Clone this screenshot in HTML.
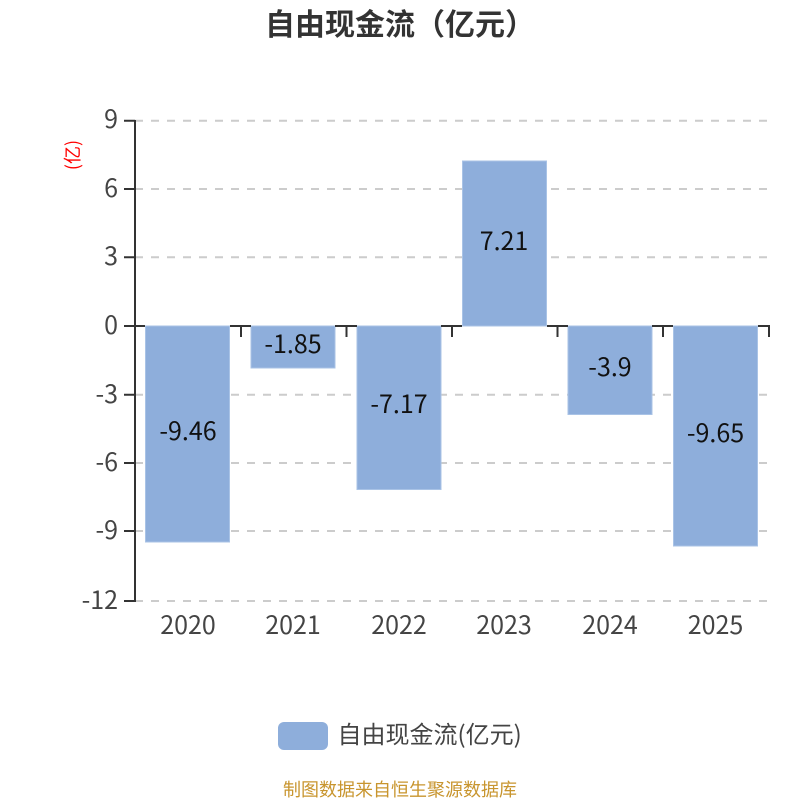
<!DOCTYPE html>
<html lang="zh">
<head>
<meta charset="utf-8">
<style>
html,body{margin:0;padding:0;background:#fff;width:800px;height:800px;overflow:hidden}
svg{display:block}
text{font-family:"Noto Sans CJK SC","Liberation Sans",sans-serif}
</style>
</head>
<body>
<svg width="800" height="800" viewBox="0 0 800 800" xmlns="http://www.w3.org/2000/svg">
<text x="265" y="35" font-size="30" font-weight="700" fill="#333">自由现金流（亿元）</text>

<g stroke="#ccc" stroke-width="2" stroke-dasharray="8 8" fill="none">
<path d="M135 120.7H769"/>
<path d="M135 189H769"/>
<path d="M135 257.3H769"/>
<path d="M135 394.7H769"/>
<path d="M135 463H769"/>
<path d="M135 531H769"/>
<path d="M135 601H769"/>
</g>

<g fill="#8eaedb" stroke="#a9c3e6" stroke-width="1">
<rect x="145.5" y="326" width="84" height="216"/>
<rect x="251" y="326" width="84" height="42"/>
<rect x="357" y="326" width="84" height="163.5"/>
<rect x="462.5" y="161" width="84" height="165"/>
<rect x="568" y="326" width="84" height="88.5"/>
<rect x="673.5" y="326" width="84" height="220"/>
</g>

<g stroke="#333" stroke-width="2" fill="none">
<path d="M135 120V602"/>
<path d="M124 120.7H135M124 189H135M124 257.3H135M124 326H135M124 394.7H135M124 463H135M124 531H135M124 601H135"/>
<path d="M135 326H145M230 326H251M335 326H357M441 326H462M547 326H568M652 326H673M758 326H770"/>
<path d="M241 326V337M346.500 326V337M452 326V337M557.500 326V337M663 326V337M769 326V337"/>
</g>

<g font-size="25" fill="#444" text-anchor="end">
<text x="118" y="128">9</text>
<text x="118" y="197">6</text>
<text x="118" y="265">3</text>
<text x="118" y="334">0</text>
<text x="118" y="403">-3</text>
<text x="118" y="471">-6</text>
<text x="118" y="539">-9</text>
<text x="118" y="609">-12</text>
</g>

<g font-size="25" fill="#444" text-anchor="middle">
<text x="188" y="634">2020</text>
<text x="293" y="634">2021</text>
<text x="399" y="634">2022</text>
<text x="504" y="634">2023</text>
<text x="610" y="634">2024</text>
<text x="715.500" y="634">2025</text>
</g>

<g font-size="25" fill="#111" text-anchor="middle">
<text x="188" y="440">-9.46</text>
<text x="293" y="353">-1.85</text>
<text x="399" y="413">-7.17</text>
<text x="504" y="250">7.21</text>
<text x="610" y="376">-3.9</text>
<text x="715.500" y="442">-9.65</text>
</g>

<text transform="translate(79 155) rotate(-90)" font-size="18" fill="#f00" text-anchor="middle">(亿)</text>

<rect x="278" y="722" width="50" height="28" rx="6" fill="#8eaedb"/>
<text x="337.500" y="743" font-size="24" fill="#444">自由现金流(亿元)</text>
<text x="400" y="796" font-size="18" fill="#c8952e" text-anchor="middle">制图数据来自恒生聚源数据库</text>
</svg>
</body>
</html>
